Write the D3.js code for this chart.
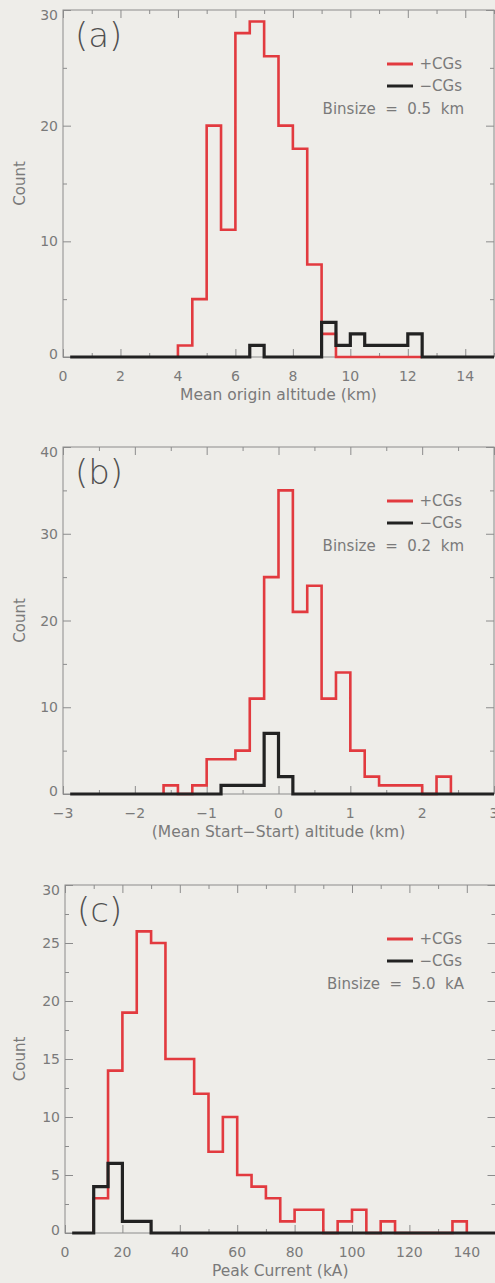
<!DOCTYPE html>
<html>
<head>
<meta charset="utf-8">
<script src="https://cdn.jsdelivr.net/npm/d3@7"></script>
<style>
  html, body { margin: 0; padding: 0; background: #eeede9; }
  svg { display: block; }
</style>
</head>
<body>
<div id="chart"></div>
<script>
// panel (a) - mean origin altitude, bin 0.5 km
const aRedFrom = 4.0;
const aRed = [1, 5, 20, 11, 28, 29, 26, 20, 18, 8, 2, 0, 0, 0, 0, 0, 0];
const aBlackFrom = 0;
const aBlack = [0,0,0,0,0,0,0,0,0,0,0,0,0, 1, 0,0,0,0, 3, 1, 2, 1, 1, 1, 2, 0,0,0,0,0];
const aXTicks = [0, 2, 4, 6, 8, 10, 12, 14];
const aYTicks = [0, 10, 20, 30];

// panel (b) - start-start altitude, bin 0.2 km
const bRedFrom = -1.6;
const bRed = [1, 0, 1, 4, 4, 5, 11, 25, 35, 21, 24, 11, 14, 5, 2, 1, 1, 1, 0, 2];
const bBlackFrom = -3.0;
const bBlack = [0,0,0,0,0,0,0,0,0,0,0, 1, 1, 1, 7, 2, 0,0,0,0,0,0,0,0,0,0,0,0,0,0];
const bXTicks = [-3, -2, -1, 0, 1, 2, 3];
const bYTicks = [0, 10, 20, 30, 40];

// panel (c) - peak current, bin 5 kA
const cRedFrom = 10;
const cRed = [3, 14, 19, 26, 25, 15, 15, 12, 7, 10, 5, 4, 3, 1, 2, 2, 0, 1, 2, 0, 1, 0, 0, 0, 0, 1];
const cBlackFrom = 0;
const cBlack = [0, 0, 4, 6, 1, 1, 0,0,0,0,0,0,0,0,0,0,0,0,0,0,0,0,0,0,0,0,0,0,0,0];
const cXTicks = [0, 20, 40, 60, 80, 100, 120, 140];
const cYTicks = [0, 5, 10, 15, 20, 25, 30];

const legendNames = ["+CGs", "\u2212CGs"];

const width = 495;
const height = 1283;
const red = "#e23a3f";
const black = "#222222";
const axisColor = "#8c8c8c";
const textColor = "#7a7a7a";
const font = "DejaVu Sans, sans-serif";

const svg = d3.select("#chart")
  .append("svg")
  .attr("width", width)
  .attr("height", height)
  .style("background", "#eeede9");

const panels = [
  {
    tag: "(a)", box: [63, 494, 10, 357],
    xDomain: [0, 15], yDomain: [0, 30],
    xTicks: aXTicks, xMinor: 1, yTicks: aYTicks, yMinor: 5,
    bin: 0.5, redFrom: aRedFrom, red: aRed,
    blackFrom: aBlackFrom, black: aBlack, blackStart: 0.25,
    binText: "Binsize  =  0.5  km",
    xTitle: "Mean origin altitude (km)"
  },
  {
    tag: "(b)", box: [63, 494, 447, 794],
    xDomain: [-3, 3], yDomain: [0, 40],
    xTicks: bXTicks, xMinor: 0.5, yTicks: bYTicks, yMinor: 5,
    bin: 0.2, redFrom: bRedFrom, red: bRed,
    blackFrom: bBlackFrom, black: bBlack, blackStart: -2.9,
    binText: "Binsize  =  0.2  km",
    xTitle: "(Mean Start\u2212Start) altitude (km)"
  },
  {
    tag: "(c)", box: [65, 495.5, 885, 1233],
    xDomain: [0, 150], yDomain: [0, 30],
    xTicks: cXTicks, xMinor: 10, yTicks: cYTicks, yMinor: 2.5,
    bin: 5, redFrom: cRedFrom, red: cRed,
    blackFrom: cBlackFrom, black: cBlack, blackStart: 2.5,
    binText: "Binsize  =  5.0  kA",
    xTitle: "Peak Current (kA)"
  }
];

// step outline of a histogram
function stepPoints(from, bin, counts, start) {
  const pts = [[from, 0]];
  counts.forEach((c, i) => {
    pts.push([from + i * bin, c]);
    pts.push([from + (i + 1) * bin, c]);
  });
  pts.push([from + counts.length * bin, 0]);
  if (start !== undefined) {
    pts[0][0] = start;
    pts[1][0] = start;
  }
  return pts;
}

function drawPanel(p) {
  const [left, right, top, bottom] = p.box;
  const g = svg.append("g");

  const x = d3.scaleLinear().domain(p.xDomain).range([left, right]);
  const y = d3.scaleLinear().domain(p.yDomain).range([bottom, top]);

  const xMinorTicks = d3.range(p.xDomain[0], p.xDomain[1] + 1e-9, p.xMinor)
    .filter(v => !p.xTicks.some(t => Math.abs(t - v) < 1e-9));
  const yMinorTicks = d3.range(p.yDomain[0], p.yDomain[1] + 1e-9, p.yMinor)
    .filter(v => !p.yTicks.some(t => Math.abs(t - v) < 1e-9));

  // ticks on all four sides, pointing inward
  const tickAxes = [
    [d3.axisBottom(x).tickValues(p.xTicks).tickSize(-8), `translate(0,${bottom})`],
    [d3.axisBottom(x).tickValues(xMinorTicks).tickSize(-4), `translate(0,${bottom})`],
    [d3.axisTop(x).tickValues(p.xTicks).tickSize(-8), `translate(0,${top})`],
    [d3.axisTop(x).tickValues(xMinorTicks).tickSize(-4), `translate(0,${top})`],
    [d3.axisLeft(y).tickValues(p.yTicks).tickSize(-8), `translate(${left},0)`],
    [d3.axisLeft(y).tickValues(yMinorTicks).tickSize(-4), `translate(${left},0)`],
    [d3.axisRight(y).tickValues(p.yTicks).tickSize(-8), `translate(${right},0)`],
    [d3.axisRight(y).tickValues(yMinorTicks).tickSize(-4), `translate(${right},0)`]
  ];
  tickAxes.forEach(([ax, tr]) => {
    const a = g.append("g")
      .attr("transform", tr)
      .call(ax.tickFormat("").tickSizeOuter(0));
    a.select(".domain").remove();
    a.selectAll("line").attr("stroke", axisColor).attr("stroke-width", 1);
  });

  // frame
  g.append("rect")
    .attr("x", left)
    .attr("y", top)
    .attr("width", right - left)
    .attr("height", bottom - top)
    .attr("fill", "none")
    .attr("stroke", axisColor)
    .attr("stroke-width", 1);

  // tick labels
  g.selectAll(".xlab")
    .data(p.xTicks)
    .join("text")
    .attr("x", d => x(d))
    .attr("y", bottom + 24)
    .attr("text-anchor", "middle")
    .style("font-family", font)
    .style("font-size", "14px")
    .attr("fill", textColor)
    .text(d => d < 0 ? "\u2212" + Math.abs(d) : d);

  g.selectAll(".ylab")
    .data(p.yTicks)
    .join("text")
    .attr("x", left - 5)
    .attr("y", d => {
      let yy = y(d) + 5;
      if (d === p.yDomain[1]) yy += 5;
      if (d === p.yDomain[0]) yy -= 3;
      return yy;
    })
    .attr("text-anchor", "end")
    .style("font-family", font)
    .style("font-size", "14px")
    .attr("fill", textColor)
    .text(d => d);

  // axis titles
  g.append("text")
    .attr("x", (left + right) / 2)
    .attr("y", bottom + 43)
    .attr("text-anchor", "middle")
    .style("font-family", font)
    .style("font-size", "15.5px")
    .attr("fill", textColor)
    .text(p.xTitle);

  g.append("text")
    .attr("transform", `translate(25,${(top + bottom) / 2}) rotate(-90)`)
    .attr("text-anchor", "middle")
    .style("font-family", font)
    .style("font-size", "15px")
    .attr("fill", textColor)
    .text("Count");

  // histograms, black drawn over red
  const line = d3.line().x(d => x(d[0])).y(d => y(d[1]));

  g.append("path")
    .attr("d", line(stepPoints(p.redFrom, p.bin, p.red)))
    .attr("fill", "none")
    .attr("stroke", red)
    .attr("stroke-width", 2.6)
    .attr("stroke-linejoin", "miter");

  g.append("path")
    .attr("d", line(stepPoints(p.blackFrom, p.bin, p.black, p.blackStart)))
    .attr("fill", "none")
    .attr("stroke", black)
    .attr("stroke-width", 3.2)
    .attr("stroke-linejoin", "miter");

  // panel tag
  g.append("text")
    .attr("x", left + 12)
    .attr("y", top + 37)
    .style("font-family", font)
    .style("font-size", "34px")
    .style("font-weight", 200)
    .attr("fill", "#505050")
    .text(p.tag);

  // legend
  const legendX = 462;
  [red, black].forEach((col, i) => {
    g.append("line")
      .attr("x1", 387)
      .attr("x2", 413)
      .attr("y1", top + 54 + i * 22)
      .attr("y2", top + 54 + i * 22)
      .attr("stroke", col)
      .attr("stroke-width", 3);
    g.append("text")
      .attr("x", legendX)
      .attr("y", top + 59 + i * 22)
      .attr("text-anchor", "end")
      .style("font-family", font)
      .style("font-size", "15px")
      .attr("fill", textColor)
      .text(legendNames[i]);
  });

  g.append("text")
    .attr("x", legendX + 2)
    .attr("y", top + 104)
    .attr("text-anchor", "end")
    .style("font-family", font)
    .style("font-size", "15px")
    .style("white-space", "pre")
    .attr("fill", textColor)
    .text(p.binText);
}

panels.forEach(drawPanel);
</script>
</body>
</html>
